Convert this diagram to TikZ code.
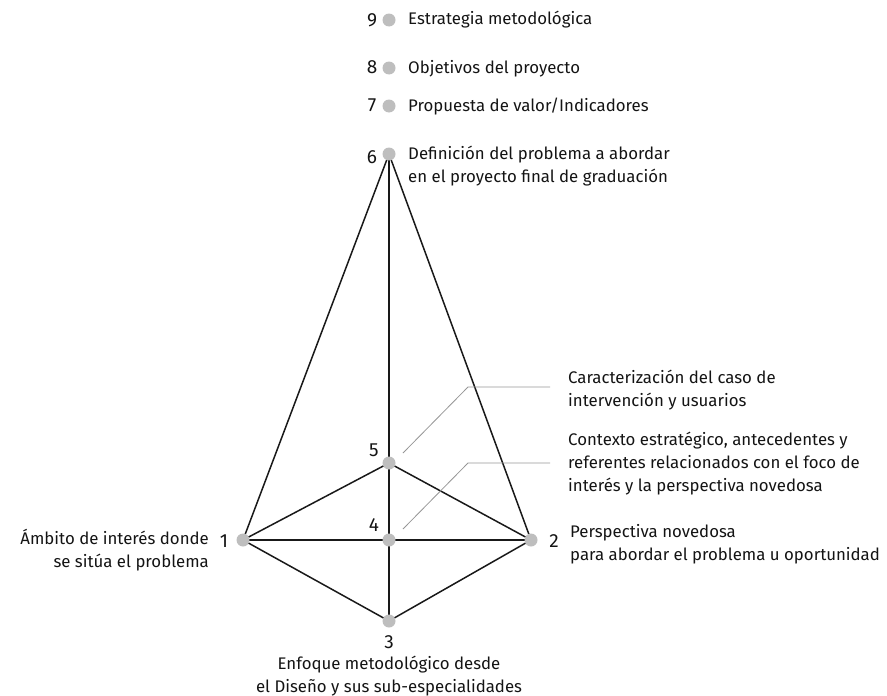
\documentclass[tikz,border=0pt]{standalone}
\usepackage{fontspec}
\setmainfont{Fira Sans}
\begin{document}
\begin{tikzpicture}[x=1pt,y=-1pt,
  dot/.style={circle,fill=dotgray,inner sep=0pt,minimum size=13pt},
  edge/.style={line width=1.5pt,black!90},
  lead/.style={line width=0.8pt,leadgray},
  txt/.style={font=\fontsize{16.8}{23}\selectfont,inner sep=0pt,align=left,text=black!92},
  num/.style={font=\fontsize{19}{20}\selectfont,inner sep=0pt,text=black!92}]
\definecolor{dotgray}{RGB}{190,190,190}
\definecolor{leadgray}{RGB}{150,150,150}
\useasboundingbox (0,0) rectangle (887,696);
% vertices
\coordinate (p1) at (243,540);
\coordinate (p2) at (531,540);
\coordinate (p3) at (389,621);
\coordinate (p4) at (389,540);
\coordinate (p5) at (389,463);
\coordinate (p6) at (389,154);
% edges
\draw[edge] (p6) -- (p1);
\draw[edge] (p6) -- (p2);
\draw[edge] (p6) -- (p3);
\draw[edge] (p1) -- (p2);
\draw[edge] (p1) -- (p5) -- (p2);
\draw[edge] (p1) -- (p3) -- (p2);
% leaders
\coordinate (l1a) at (403,453);
\coordinate (l1b) at (468,387);
\coordinate (l1c) at (550,387);
\coordinate (l2a) at (403,529);
\coordinate (l2b) at (468,463);
\coordinate (l2c) at (550,463);
\draw[lead] (l1a) -- (l1b) -- (l1c);
\draw[lead] (l2a) -- (l2b) -- (l2c);
% dots
\node[dot] (d1) at (p1) {};
\node[dot] (d2) at (p2) {};
\node[dot] (d3) at (p3) {};
\node[dot] (d4) at (p4) {};
\node[dot] (d5) at (p5) {};
\node[dot] (d6) at (p6) {};
\node[dot] (d7) at (389,106) {};
\node[dot] (d8) at (389,68) {};
\node[dot] (d9) at (389,20) {};
% numbers
\node[num] (n9) at (372,20) {9};
\node[num] (n8) at (372,67) {8};
\node[num] (n7) at (372,105) {7};
\node[num] (n6) at (372,157) {6};
\node[num] (n5) at (374,450) {5};
\node[num] (n4) at (374,525) {4};
\node[num] (n3) at (389,642) {3};
\node[num] (n1) at (224,541) {1};
\node[num] (n2) at (554,541) {2};
% texts
\node[txt,anchor=west] (t9) at (408,20) {Estrategia metodológica};
\node[txt,anchor=west] (t8) at (408,69) {Objetivos del proyecto};
\node[txt,anchor=west] (t7) at (408,107) {Propuesta de valor/Indicadores};
\node[txt,anchor=north west] (t6) at (408,146) {Definición del problema a abordar\\en el proyecto final de graduación};
\node[txt,anchor=north west] (t5) at (568,370) {Caracterización del caso de\\intervención y usuarios};
\node[txt,anchor=north west] (t4) at (568,432) {Contexto estratégico, antecedentes y\\referentes relacionados con el foco de\\interés y la perspectiva novedosa};
\node[txt,anchor=north west] (t2) at (570,524) {Perspectiva novedosa\\para abordar el problema u oportunidad};
\node[txt,anchor=north east,align=right] (t1) at (209,529) {Ámbito de interés donde\\se sitúa el problema};
\node[txt,anchor=north,align=center] (t3) at (389,656) {Enfoque metodológico desde\\el Diseño y sus sub-especialidades};
\end{tikzpicture}
\end{document}
